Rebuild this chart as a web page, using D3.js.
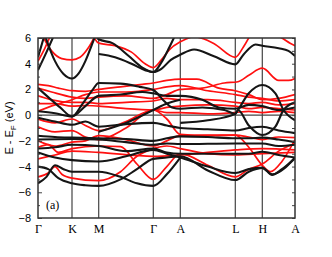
<!DOCTYPE html>
<html>
<head>
<meta charset="utf-8">
<script src="https://cdn.jsdelivr.net/npm/d3@7"></script>
<style>
  html, body { margin: 0; padding: 0; background: #fff; }
  svg { display: block; }
</style>
</head>
<body>
<svg id="chart" width="332" height="257"></svg>
<script>
// High-symmetry path: labels and cumulative path length
var kLabels = ["Γ", "K", "M", "Γ", "A", "L", "H", "A"];
var kDist = [0, 0.34, 0.607, 1.153, 1.423, 1.973, 2.243, 2.570];
var yTicks = [-8, -6, -4, -2, 0, 2, 4, 6];

// Bands: [t, E] with t = segment index (0 = Γ, 1 = K, ... 7 = A)
var blackBands = [
    [[0.15,6.6],[0.5,4.2],[0.75,3.2],[1,2.85],[1.25,3.25],[1.5,4.2],[1.75,5.5],[1.95,6.6]],
    [[0,3.5],[0.25,4.9],[0.5,6.4]],
    [[0,4.5],[0.2,6.3]],
    [[1.8,6.5],[2,5.9],[2.25,5.6],[2.55,4.6],[2.8,3.7],[3,3.35],[3.3,3.6],[3.65,4.3],[4,4.7],[4.25,5.1],[4.6,4.6],[5,3.95],[5.3,4.7],[5.75,5.5],[6,5.4],[6.5,5.2],[6.8,5.0],[7,4.6]],
    [[2,4.75],[2.3,4.5],[2.6,4.0],[2.85,3.5],[3,3.35],[3.3,4.1],[3.6,5.3],[3.85,6.4]],
    [[0,2.1],[0.3,1.4],[0.65,0.6],[1,-0.1],[1.4,0.9],[1.75,1.9],[2,2.5],[2.4,2.45],[2.75,2.2],[3,1.95],[3.4,1.1],[3.7,0.6],[4,0.5],[4.4,0.6],[4.8,0.4],[5,0.1],[5.1,0.4],[5.5,1.7],[6,2.35],[6.4,1.7],[6.65,0.4],[7,-0.4]],
    [[0,0.3],[0.5,0.15],[1,-0.1],[1.5,0.7],[2,1.5],[2.4,1.6],[2.8,1.8],[3,1.7],[3.5,1.5],[4,1.5],[4.4,1.2],[4.7,0.6],[5,0.5],[5.5,0.8],[6,0.7],[6.5,0.4],[7,0.6]],
    [[4,-0.6],[4.5,-0.4],[5,0.1],[5.1,0.4],[5.5,-0.8],[6,-1.55],[6.4,-0.9],[6.65,0.4],[7,1.0]],
    [[2,-1.3],[2.5,-0.6],[3,0.4],[3.5,0.9],[4,1.2]],
    [[0,-0.2],[0.5,-0.5],[1,-0.75],[1.5,-0.5],[2,-0.9],[2.5,-0.7],[3,-0.6],[3.5,-0.8],[4,-1.0],[4.5,-1.1],[5,-1.2],[5.5,-1.0],[6,-0.9],[6.5,-1.2],[7,-1.4]],
    [[0,-1.6],[0.5,-1.7],[1,-1.75],[2,-1.8],[2.5,-1.85],[3,-2.0],[3.5,-1.8],[4,-1.65],[4.5,-1.7],[5,-1.8],[5.5,-1.8],[6,-1.75],[6.5,-1.9],[7,-2.1]],
    [[0,-1.9],[1,-1.85],[2,-1.9],[2.5,-2.1],[3,-2.3],[3.5,-2.2],[4,-2.25],[5,-2.2],[6,-2.2],[6.5,-2.4],[7,-2.3]],
    [[0,-2.6],[0.5,-2.5],[1,-2.3],[2,-2.4],[2.5,-2.8],[3,-2.6],[3.5,-2.9],[4,-3.0],[5,-3.0],[5.5,-3.0],[6,-2.85],[6.5,-3.1],[7,-3.3]],
    [[0,-2.9],[0.5,-3.3],[1,-3.5],[2,-3.6],[2.5,-3.2],[3,-2.7],[3.5,-3.0],[4,-3.3],[4.5,-4.0],[5,-4.5],[5.5,-4.2],[6,-4.1],[6.3,-4.6],[7,-3.3]],
    [[0,-4.0],[0.3,-4.2],[0.6,-4.9],[1,-5.3],[1.5,-5.45],[2,-5.5],[2.4,-5.0],[2.7,-4.2],[3,-3.4],[3.5,-3.3],[4,-3.2],[4.5,-4.3],[5,-5.05],[5.5,-4.4],[6,-4.1],[6.3,-4.65],[6.6,-4.2],[7,-3.35]],
    [[0,-5.3],[0.25,-4.8],[0.5,-3.9],[0.75,-4.2],[1,-4.4],[2,-4.4],[2.4,-4.8],[2.7,-5.3],[3,-5.5],[3.5,-4.6],[4,-3.3]]
];

var redBands = [
    [[0.05,6.6],[0.4,5.0],[0.7,4.4],[1,4.3],[1.3,4.5],[1.6,5.2],[1.9,6.3]],
    [[0,4.2],[0.2,5.2],[0.4,6.4]],
    [[1.7,6.6],[2,5.6],[2.3,5.4],[2.6,4.9],[2.85,4.0],[3,3.7],[3.3,4.3],[3.6,5.1],[4,5.7],[4.25,6.1],[4.6,5.6],[5,4.5],[5.3,5.3],[5.6,6.4]],
    [[6.3,6.4],[6.6,6.0],[6.85,5.6],[7,5.4]],
    [[0,2.4],[0.3,2.3],[0.6,2.1],[1,1.9],[1.5,1.85],[2,2.0],[2.4,2.2],[2.8,2.4],[3,2.5],[3.5,2.7],[4,2.8],[4.3,2.8],[4.7,2.1],[5,1.9],[5.5,1.6],[6,1.2],[6.5,1.3],[7,1.6]],
    [[0,2.1],[0.4,1.8],[1,1.4],[1.5,1.3],[2,1.4],[2.5,1.5],[3,1.3],[3.5,1.6],[4,2.0],[4.4,2.1],[4.8,2.5],[5.1,2.6],[5.5,3.1],[6,3.65],[6.5,2.7],[6.8,2.7],[7,2.85]],
    [[0,1.5],[0.4,1.2],[1,1.0],[1.5,1.0],[2,0.9],[2.5,1.0],[3,1.1],[3.5,1.3],[4,1.2],[4.5,1.2],[5,1.0],[5.5,0.9],[6,1.0],[6.5,0.8],[7,0.9]],
    [[0,0.9],[0.5,0.9],[1,0.7],[1.5,0.75],[2,0.7],[2.5,0.5],[3,0.4],[3.5,0.6],[4,0.7],[4.5,0.8],[5,0.7],[5.5,0.5],[6,0.6],[6.5,0.5],[7,0.4]],
    [[0,0.3],[0.5,0.8],[1,1.2],[1.5,1.6],[2,1.8],[2.5,1.8],[3,2.0],[3.5,2.2],[4,2.3],[4.5,1.9],[5,1.6],[5.5,1.4],[6,1.3],[6.5,1.1],[7,1.2]],
    [[0,-0.3],[0.5,-0.6],[1,-0.3],[1.5,-0.8],[2,-1.2],[2.5,-0.5],[3,0.4],[3.5,0.2],[4,0.2],[4.5,0.1],[5,0.2],[5.5,0.3],[6,0.2],[6.5,0.3],[7,0.2]],
    [[0,-0.9],[0.5,-1.3],[1,-1.2],[1.5,-1.7],[2,-1.9],[2.5,-1.0],[3,0.4],[3.5,-0.3],[4,-1.5],[4.5,-1.6],[5,-1.55],[5.5,-1.7],[6,-1.9],[6.5,-1.7],[7,-1.75]],
    [[0,-2.0],[0.5,-2.4],[1,-2.1],[1.5,-2.0],[2,-1.6],[2.5,-1.9],[3,-2.4],[3.5,-2.0],[4,-1.6],[4.5,-1.55],[5,-1.55],[5.5,-2.5],[6,-3.9],[6.25,-4.4],[6.6,-3.6],[7,-1.9]],
    [[0,-2.5],[0.3,-2.3],[0.6,-2.9],[1,-2.6],[2,-2.4],[2.4,-2.45],[2.7,-3.8],[3,-5.0],[3.5,-4.0],[4,-3.0],[4.5,-3.9],[5,-4.8],[5.5,-4.2],[6,-3.8],[6.5,-2.8],[7,-2.2]],
    [[0,-4.8],[0.3,-4.5],[0.5,-4.0],[0.7,-4.6],[1,-4.9],[2,-5.1],[2.4,-4.4],[2.7,-3.2],[3,-2.6],[3.5,-2.4],[4,-2.6],[4.5,-3.0],[5,-3.1],[6,-3.0],[7,-2.9]],
    [[0,-3.4],[0.5,-3.1],[1,-2.8],[2,-2.9],[3,-3.2],[4,-3.1],[5,-2.7],[6,-2.6],[7,-2.7]]
];

var svg = d3.select("#chart"),
    margin = {left: 38, right: 37, top: 38, bottom: 39},
    width = +svg.attr("width"),
    height = +svg.attr("height");

var x = d3.scaleLinear().domain([0, kDist[kDist.length - 1]]).range([margin.left, width - margin.right]);
var y = d3.scaleLinear().domain([-8, 6]).range([height - margin.bottom, margin.top]);

// t (segment index + fraction) -> path length
function tToK(t) {
    var i = Math.min(Math.floor(t), kDist.length - 2);
    return kDist[i] + (t - i) * (kDist[i + 1] - kDist[i]);
}

svg.append("clipPath").attr("id", "clip")
    .append("rect")
    .attr("x", x.range()[0]).attr("y", y.range()[1])
    .attr("width", x.range()[1] - x.range()[0])
    .attr("height", y.range()[0] - y.range()[1]);

var line = d3.line()
    .x(function (d) { return x(tToK(d[0])); })
    .y(function (d) { return y(d[1]); })
    .curve(d3.curveMonotoneX);

// Vertical lines at the high-symmetry points
svg.append("g")
    .selectAll("line")
    .data(kDist.slice(1, -1))
    .enter().append("line")
    .attr("x1", function (d) { return x(d); })
    .attr("x2", function (d) { return x(d); })
    .attr("y1", y(-8)).attr("y2", y(6))
    .attr("stroke", "#444").attr("stroke-width", 1.2);

// Fermi level
svg.append("line")
    .attr("x1", x.range()[0]).attr("x2", x.range()[1])
    .attr("y1", y(0)).attr("y2", y(0))
    .attr("stroke", "#444").attr("stroke-width", 1.2);

var bands = svg.append("g").attr("clip-path", "url(#clip)");

bands.selectAll(".red")
    .data(redBands)
    .enter().append("path")
    .attr("class", "red")
    .attr("d", line)
    .attr("fill", "none")
    .attr("stroke", "#ff1010")
    .attr("stroke-width", 1.7);

bands.selectAll(".black")
    .data(blackBands)
    .enter().append("path")
    .attr("class", "black")
    .attr("d", line)
    .attr("fill", "none")
    .attr("stroke", "#151515")
    .attr("stroke-width", 2.1);

// Axes: left with labels, minor ticks, right ticks
var yAxis = svg.append("g")
    .attr("transform", "translate(" + margin.left + ",0)")
    .call(d3.axisLeft(y).tickValues(yTicks).tickSize(-4).tickPadding(7));
yAxis.selectAll("text")
    .style("font-family", "'Liberation Sans', Arial, sans-serif")
    .style("font-size", "11px")
    .attr("fill", "#000");

svg.append("g")
    .attr("transform", "translate(" + margin.left + ",0)")
    .call(d3.axisLeft(y).tickValues(d3.range(-7, 6, 2)).tickSize(-2).tickFormat(""));

svg.append("g")
    .attr("transform", "translate(" + (width - margin.right) + ",0)")
    .call(d3.axisRight(y).tickValues(d3.range(-8, 7, 1)).tickSize(-3).tickFormat(""));

svg.selectAll(".domain").remove();
svg.selectAll(".tick line").attr("stroke", "#444");

var xAxis = svg.append("g")
    .attr("transform", "translate(0," + (height - margin.bottom) + ")")
    .call(d3.axisBottom(x).tickValues(kDist).tickSize(0).tickPadding(6)
        .tickFormat(function (d, i) { return kLabels[i]; }));
xAxis.select(".domain").remove();
xAxis.selectAll("text")
    .style("font-family", "'Liberation Serif', 'Times New Roman', serif")
    .style("font-size", "12px")
    .attr("fill", "#000");

// Frame
svg.append("rect")
    .attr("x", x.range()[0]).attr("y", y.range()[1])
    .attr("width", x.range()[1] - x.range()[0])
    .attr("height", y.range()[0] - y.range()[1])
    .attr("fill", "none")
    .attr("stroke", "#333")
    .attr("stroke-width", 1.5);

// Y title
var title = svg.append("text")
    .attr("transform", "translate(13," + y(-1) + ") rotate(-90)")
    .attr("text-anchor", "middle")
    .style("font-family", "'Liberation Sans', Arial, sans-serif")
    .style("font-size", "11px");
title.append("tspan").text("E - E");
title.append("tspan").attr("dy", 3).style("font-size", "8px").text("F");
title.append("tspan").attr("dy", -3).text(" (eV)");

svg.append("text")
    .attr("x", 46).attr("y", y(-7))
    .attr("dy", "0.35em")
    .style("font-family", "'Liberation Serif', 'Times New Roman', serif")
    .style("font-size", "12px")
    .text("(a)");
</script>
</body>
</html>
